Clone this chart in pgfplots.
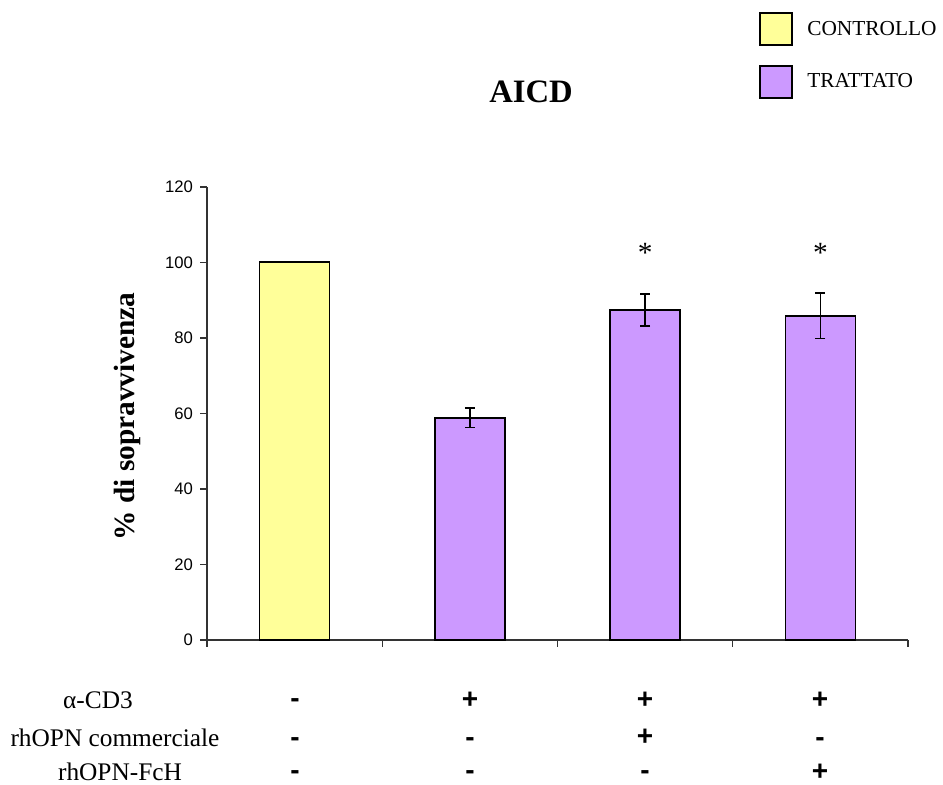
\documentclass[border=0pt]{standalone}
\usepackage{fontspec}
\setmainfont{Liberation Serif}
\newfontfamily\arial{Liberation Sans}
\usepackage{pgfplots}
\pgfplotsset{compat=1.18}
\definecolor{cyellow}{HTML}{FFFF99}
\definecolor{cpurple}{HTML}{CC99FF}
\begin{document}
\begin{tikzpicture}[x=0.75pt,y=0.75pt]
\useasboundingbox (-207,-145) rectangle (736,640);
\begin{axis}[
  at={(0,0)}, anchor=south west,
  scale only axis,
  width=525.75pt, height=339.75pt,
  xmin=-0.5, xmax=3.5, ymin=0, ymax=120,
  axis lines=left, axis line style={line width=0.8pt, draw=black!80, -},
  xtick={-0.5,0.5,1.5,2.5,3.5}, xticklabels={},
  ytick={0,20,...,120},
  tick align=outside, tick style={line width=0.8pt, draw=black!80},
  major tick length=5pt,
  /pgf/number format/assume math mode=true,
  yticklabel style={font=\arial\fontsize{12.5}{14}\selectfont, xshift=-2pt},
  ybar, bar width=52.5pt, bar shift=0pt,
  clip=false,
  legend style={at={(0.787,1.386)}, anchor=north west, draw=none, fill=none,
    font=\fontsize{16}{18}\selectfont, row sep=14pt, inner sep=0pt,
    /tikz/every odd column/.append style={column sep=9pt}},
  legend cell align=left,
  legend image code/.code={\draw[#1, line width=1.3pt] (0pt,-12pt) rectangle (24pt,12pt);},
]
\addplot[fill=cyellow, draw=black, line width=1.3pt] coordinates {(0,100.2)};
\addlegendentry{CONTROLLO}
\addplot[fill=cpurple, draw=black, line width=1.3pt,
  error bars/.cd, y dir=both, y explicit,
  error bar style={line width=1.3pt, black},
  error mark options={rotate=90, mark size=3.8pt, line width=1.3pt, black}]
  coordinates {
  (1,58.9) +- (0,2.6)
  (2,87.4) +- (0,4.2)
  (3,85.9) +- (0,6.0)
};
\addlegendentry{TRATTATO}
\node[font=\fontsize{22}{22}\selectfont] at (axis cs:2,102.5) {*};
\node[font=\fontsize{22}{22}\selectfont] at (axis cs:3,102.5) {*};
\end{axis}
% title and y label
\node[font=\bfseries\fontsize{24.5}{26}\selectfont] at (324,548) {AICD};
\node[font=\bfseries\fontsize{22}{24}\selectfont, rotate=90] at (-80,223.5) {\% di sopravvivenza};
% condition table
\begin{scope}[every node/.style={font=\fontsize{19}{20}\selectfont, inner sep=0pt}]
\node at (-109,-60) {α-CD3};
\node at (-92,-98) {rhOPN commerciale};
\node at (-87,-132) {rhOPN-FcH};
\end{scope}
\begin{scope}[every node/.style={font=\arial\bfseries\fontsize{21}{22}\selectfont, inner sep=0pt}]
\node at (88,-63) {-};
\node at (263,-60) {\vphantom{+}+};
\node at (438,-60) {\vphantom{+}+};
\node at (613,-60) {\vphantom{+}+};
\node at (88,-102) {-};
\node at (263,-102) {-};
\node at (438,-97) {\vphantom{+}+};
\node at (613,-102) {-};
\node at (88,-135) {-};
\node at (263,-135) {-};
\node at (438,-135) {-};
\node at (613,-132) {\vphantom{+}+};
\end{scope}
\end{tikzpicture}
\end{document}
